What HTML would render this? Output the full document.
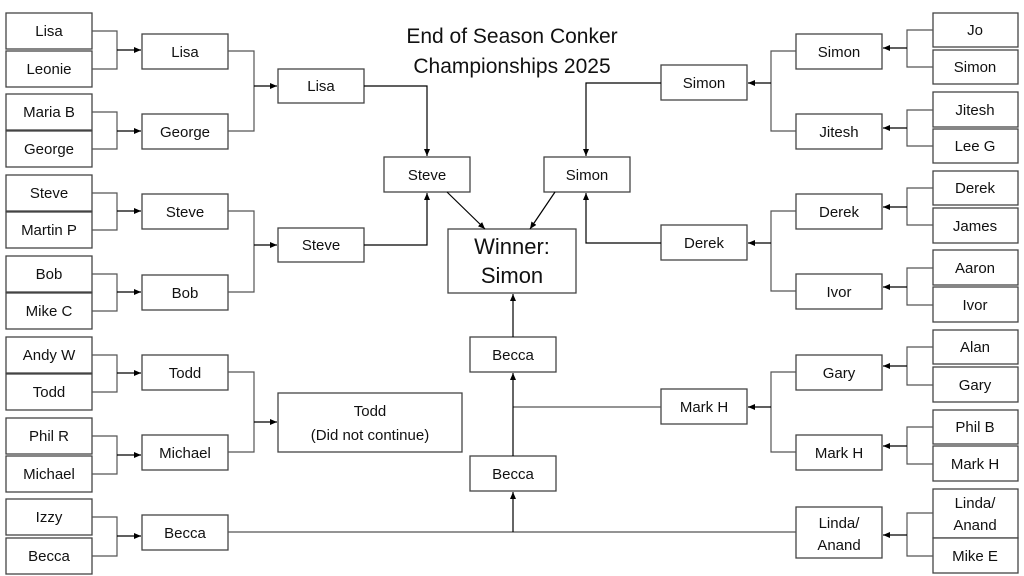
<!DOCTYPE html><html><head><style>body{margin:0;background:#fff}svg{display:block}text{font-family:"Liberation Sans",sans-serif;font-size:15px;fill:#111;text-anchor:middle}</style></head><body>
<svg width="1024" height="576" viewBox="0 0 1024 576">
<defs><marker id="a" markerWidth="8" markerHeight="8" refX="7" refY="4" orient="auto" markerUnits="userSpaceOnUse"><path d="M0,1 L7,4 L0,7z" fill="#000"/></marker></defs>
<g fill="#fff" stroke="#444" stroke-width="1.3">
<rect x="6" y="13" width="86" height="36"/><rect x="6" y="51" width="86" height="36"/><rect x="6" y="94" width="86" height="36"/><rect x="6" y="131" width="86" height="36"/><rect x="6" y="175" width="86" height="36"/><rect x="6" y="212" width="86" height="36"/><rect x="6" y="256" width="86" height="36"/><rect x="6" y="293" width="86" height="36"/><rect x="6" y="337" width="86" height="36"/><rect x="6" y="374" width="86" height="36"/><rect x="6" y="418" width="86" height="36"/><rect x="6" y="456" width="86" height="36"/><rect x="6" y="499" width="86" height="36"/><rect x="6" y="538" width="86" height="36"/>
<rect x="142" y="34" width="86" height="35"/><rect x="142" y="114" width="86" height="35"/><rect x="142" y="194" width="86" height="35"/><rect x="142" y="275" width="86" height="35"/><rect x="142" y="355" width="86" height="35"/><rect x="142" y="435" width="86" height="35"/><rect x="142" y="515" width="86" height="35"/>
<rect x="278" y="69" width="86" height="34"/><rect x="278" y="228" width="86" height="34"/><rect x="278" y="393" width="184" height="59"/>
<rect x="384" y="157" width="86" height="35"/><rect x="544" y="157" width="86" height="35"/><rect x="448" y="229" width="128" height="64"/>
<rect x="470" y="337" width="86" height="35"/><rect x="470" y="456" width="86" height="35"/>
<rect x="933" y="13" width="85" height="34"/><rect x="933" y="50" width="85" height="34"/><rect x="933" y="92" width="85" height="35"/><rect x="933" y="129" width="85" height="34"/><rect x="933" y="171" width="85" height="34"/><rect x="933" y="208" width="85" height="35"/><rect x="933" y="250" width="85" height="35"/><rect x="933" y="287" width="85" height="35"/><rect x="933" y="330" width="85" height="34"/><rect x="933" y="367" width="85" height="35"/><rect x="933" y="410" width="85" height="34"/><rect x="933" y="446" width="85" height="35"/><rect x="933" y="489" width="85" height="49"/><rect x="933" y="538" width="85" height="35"/>
<rect x="796" y="34" width="86" height="35"/><rect x="796" y="114" width="86" height="35"/><rect x="796" y="194" width="86" height="35"/><rect x="796" y="274" width="86" height="35"/><rect x="796" y="355" width="86" height="35"/><rect x="796" y="435" width="86" height="35"/><rect x="796" y="507" width="86" height="51"/>
<rect x="661" y="65" width="86" height="35"/><rect x="661" y="225" width="86" height="35"/><rect x="661" y="389" width="86" height="35"/>
</g>
<g fill="none" stroke="#555" stroke-width="1.2">
<path d="M92 31H117V69H92M92 112H117V149H92M92 193H117V230H92M92 274H117V311H92M92 355H117V392H92M92 436H117V474H92M92 517H117V556H92"/>
<path d="M228 51H254V131H228M228 211H254V292H228M228 372H254V452H228"/>
<path d="M933 30H907V67H933M933 110H907V146H933M933 188H907V225H933M933 268H907V305H933M933 347H907V385H933M933 427H907V464H933M933 513H907V556H933"/>
<path d="M796 51H771V131H796M796 211H771V291H796M796 372H771V452H796"/>
<path d="M228 532H796M661 407H513"/>
</g>
<g stroke="#000" stroke-width="1.2" fill="none" marker-end="url(#a)">
<path d="M117 50H141"/><path d="M117 131H141"/><path d="M117 211H141"/><path d="M117 292H141"/><path d="M117 373H141"/><path d="M117 455H141"/><path d="M117 536H141"/>
<path d="M254 86H277"/><path d="M254 245H277"/><path d="M254 422H277"/>
<path d="M907 48H883"/><path d="M907 128H883"/><path d="M907 207H883"/><path d="M907 287H883"/><path d="M907 366H883"/><path d="M907 446H883"/><path d="M907 535H883"/>
<path d="M771 83H748"/><path d="M771 243H748"/><path d="M771 407H748"/>
<path d="M364 86H427V156"/><path d="M364 245H427V193"/><path d="M661 83H586V156"/><path d="M661 243H586V193"/>
<path d="M447 192L485 229"/><path d="M555 192L530 229"/>
<path d="M513 532V492"/><path d="M513 456V373"/><path d="M513 337V294"/>
</g>
<text x="49" y="36">Lisa</text><text x="49" y="74">Leonie</text><text x="49" y="117">Maria B</text><text x="49" y="154">George</text><text x="49" y="198">Steve</text><text x="49" y="235">Martin P</text><text x="49" y="279">Bob</text><text x="49" y="316">Mike C</text><text x="49" y="360">Andy W</text><text x="49" y="397">Todd</text><text x="49" y="441">Phil R</text><text x="49" y="479">Michael</text><text x="49" y="522">Izzy</text><text x="49" y="561">Becca</text>
<text x="185" y="57">Lisa</text><text x="185" y="137">George</text><text x="185" y="217">Steve</text><text x="185" y="298">Bob</text><text x="185" y="378">Todd</text><text x="185" y="458">Michael</text><text x="185" y="538">Becca</text>
<text x="321" y="91">Lisa</text><text x="321" y="250">Steve</text><text x="370" y="416">Todd</text><text x="370" y="440">(Did not continue)</text>
<text x="427" y="180">Steve</text><text x="587" y="180">Simon</text>
<text x="512" y="254" style="font-size:22px">Winner:</text><text x="512" y="283" style="font-size:22px">Simon</text>
<text x="513" y="360">Becca</text><text x="513" y="479">Becca</text>
<text x="512" y="43" style="font-size:21px">End of Season Conker</text><text x="512" y="73" style="font-size:21px">Championships 2025</text>
<text x="975" y="35">Jo</text><text x="975" y="72">Simon</text><text x="975" y="115">Jitesh</text><text x="975" y="151">Lee G</text><text x="975" y="193">Derek</text><text x="975" y="231">James</text><text x="975" y="273">Aaron</text><text x="975" y="310">Ivor</text><text x="975" y="352">Alan</text><text x="975" y="390">Gary</text><text x="975" y="432">Phil B</text><text x="975" y="469">Mark H</text><text x="975" y="508">Linda/</text><text x="975" y="530">Anand</text><text x="975" y="561">Mike E</text>
<text x="839" y="57">Simon</text><text x="839" y="137">Jitesh</text><text x="839" y="217">Derek</text><text x="839" y="297">Ivor</text><text x="839" y="378">Gary</text><text x="839" y="458">Mark H</text><text x="839" y="528">Linda/</text><text x="839" y="550">Anand</text>
<text x="704" y="88">Simon</text><text x="704" y="248">Derek</text><text x="704" y="412">Mark H</text>
</svg></body></html>
